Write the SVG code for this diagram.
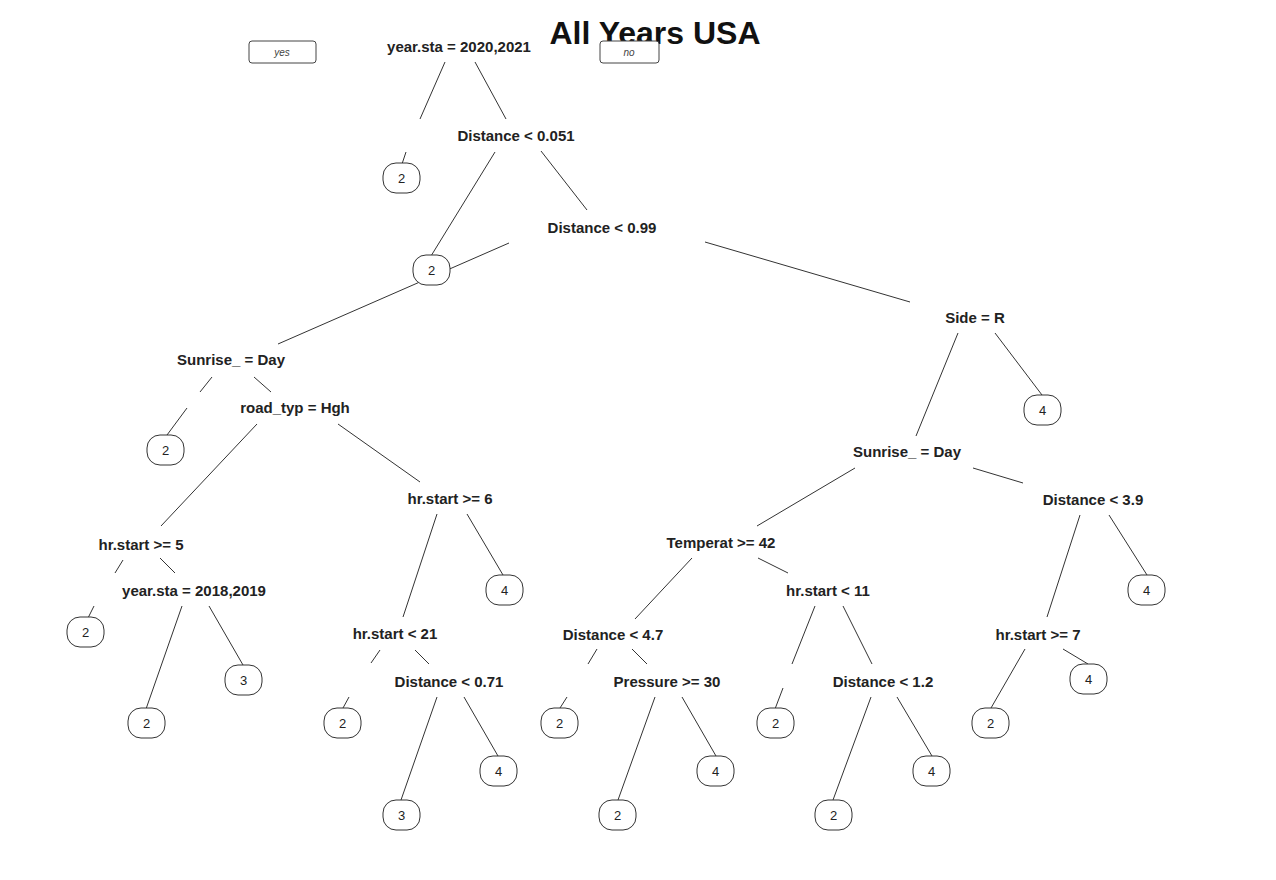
<svg xmlns="http://www.w3.org/2000/svg" width="1276" height="880" viewBox="0 0 1276 880">
<style>
.lbl{font-family:"Liberation Sans",Arial,sans-serif;font-weight:bold;font-size:15px;fill:#222;text-anchor:middle}
.lf{font-family:"Liberation Sans",Arial,sans-serif;font-size:13px;fill:#222;text-anchor:middle}
.leaf{fill:#fff;stroke:#333;stroke-width:1}
.yn{fill:#fff;stroke:#444;stroke-width:1}
.ynt{font-family:"Liberation Sans",Arial,sans-serif;font-style:italic;font-size:10px;fill:#444;text-anchor:middle}
#connectors line{stroke:#333;stroke-width:1}
</style>
<rect width="1276" height="880" fill="#fff"/>
<text x="655" y="44" font-family="Liberation Sans,Arial,sans-serif" font-weight="bold" font-size="32" fill="#111" text-anchor="middle">All Years USA</text>
<g id="yes"><rect class="yn" x="249" y="41" width="67" height="22" rx="3"/><text class="ynt" x="282" y="56">yes</text></g>
<g id="no"><rect class="yn" x="600" y="41" width="59" height="22" rx="3"/><text class="ynt" x="629" y="56">no</text></g>
<g id="connectors">
<line x1="445" y1="62" x2="420" y2="119"/><line x1="406" y1="152" x2="402" y2="164"/>
<line x1="475" y1="62" x2="506" y2="119"/>
<line x1="495" y1="152" x2="431" y2="256"/>
<line x1="541" y1="151" x2="587" y2="210"/>
<line x1="509" y1="243" x2="278" y2="344"/>
<line x1="705" y1="242" x2="910" y2="302"/>
<line x1="958" y1="333" x2="916" y2="436"/>
<line x1="995" y1="333" x2="1042" y2="395"/>
<line x1="212" y1="377" x2="200" y2="392"/><line x1="187" y1="408" x2="167" y2="435"/>
<line x1="254" y1="377" x2="271" y2="392"/>
<line x1="257" y1="424" x2="161" y2="526"/>
<line x1="338" y1="424" x2="420" y2="482"/>
<line x1="123" y1="560" x2="115" y2="573"/><line x1="94" y1="606" x2="88" y2="618"/>
<line x1="160" y1="558" x2="175" y2="573"/>
<line x1="182" y1="606" x2="146" y2="709"/>
<line x1="209" y1="606" x2="243" y2="665"/>
<line x1="437" y1="514" x2="403" y2="617"/>
<line x1="467" y1="514" x2="503" y2="575"/>
<line x1="380" y1="650" x2="371" y2="663"/><line x1="349" y1="697" x2="343" y2="708"/>
<line x1="415" y1="650" x2="429" y2="664"/>
<line x1="437" y1="697" x2="401" y2="800"/>
<line x1="464" y1="697" x2="498" y2="756"/>
<line x1="855" y1="468" x2="757" y2="526"/>
<line x1="973" y1="468" x2="1023" y2="483"/>
<line x1="692" y1="558" x2="635" y2="619"/>
<line x1="758" y1="558" x2="788" y2="573"/>
<line x1="597" y1="649" x2="588" y2="664"/><line x1="567" y1="697" x2="560" y2="708"/>
<line x1="632" y1="649" x2="647" y2="664"/>
<line x1="655" y1="697" x2="618" y2="800"/>
<line x1="682" y1="697" x2="716" y2="756"/>
<line x1="815" y1="606" x2="792" y2="664"/><line x1="783" y1="688" x2="775" y2="709"/>
<line x1="843" y1="606" x2="872" y2="664"/>
<line x1="871" y1="697" x2="833" y2="800"/>
<line x1="897" y1="697" x2="932" y2="756"/>
<line x1="1080" y1="515" x2="1047" y2="617"/>
<line x1="1109" y1="515" x2="1147" y2="575"/>
<line x1="1025" y1="649" x2="991" y2="708"/>
<line x1="1063" y1="649" x2="1088" y2="664"/>
</g>
<g id="n1"><text class="lbl" x="459" y="52">year.sta = 2020,2021</text></g>
<g id="n2"><text class="lbl" x="516" y="141">Distance &lt; 0.051</text></g>
<g id="n3"><text class="lbl" x="602" y="233">Distance &lt; 0.99</text></g>
<g id="n4"><text class="lbl" x="975" y="323">Side = R</text></g>
<g id="n5"><text class="lbl" x="231" y="365">Sunrise_ = Day</text></g>
<g id="n6"><text class="lbl" x="295" y="413">road_typ = Hgh</text></g>
<g id="n7"><text class="lbl" x="141" y="550">hr.start &gt;= 5</text></g>
<g id="n8"><text class="lbl" x="194" y="596">year.sta = 2018,2019</text></g>
<g id="n9"><text class="lbl" x="450" y="504">hr.start &gt;= 6</text></g>
<g id="n10"><text class="lbl" x="395" y="639">hr.start &lt; 21</text></g>
<g id="n11"><text class="lbl" x="449" y="687">Distance &lt; 0.71</text></g>
<g id="n12"><text class="lbl" x="907" y="457">Sunrise_ = Day</text></g>
<g id="n13"><text class="lbl" x="721" y="548">Temperat &gt;= 42</text></g>
<g id="n14"><text class="lbl" x="828" y="596">hr.start &lt; 11</text></g>
<g id="n15"><text class="lbl" x="613" y="640">Distance &lt; 4.7</text></g>
<g id="n16"><text class="lbl" x="667" y="687">Pressure &gt;= 30</text></g>
<g id="n17"><text class="lbl" x="883" y="687">Distance &lt; 1.2</text></g>
<g id="n18"><text class="lbl" x="1093" y="505">Distance &lt; 3.9</text></g>
<g id="n19"><text class="lbl" x="1038" y="640">hr.start &gt;= 7</text></g>
<g id="L1"><rect class="leaf" x="383" y="163" width="37" height="30" rx="13"/><text class="lf" x="401.5" y="183">2</text></g>
<g id="L2"><rect class="leaf" x="413" y="255" width="37" height="30" rx="13"/><text class="lf" x="431.5" y="275">2</text></g>
<g id="L3"><rect class="leaf" x="147" y="435" width="37" height="30" rx="13"/><text class="lf" x="165.5" y="455">2</text></g>
<g id="L4"><rect class="leaf" x="1024" y="395" width="37" height="30" rx="13"/><text class="lf" x="1042.5" y="415">4</text></g>
<g id="L5"><rect class="leaf" x="67" y="617" width="37" height="30" rx="13"/><text class="lf" x="85.5" y="637">2</text></g>
<g id="L6"><rect class="leaf" x="128" y="708" width="37" height="30" rx="13"/><text class="lf" x="146.5" y="728">2</text></g>
<g id="L7"><rect class="leaf" x="225" y="665" width="37" height="30" rx="13"/><text class="lf" x="243.5" y="685">3</text></g>
<g id="L8"><rect class="leaf" x="486" y="575" width="37" height="30" rx="13"/><text class="lf" x="504.5" y="595">4</text></g>
<g id="L9"><rect class="leaf" x="324" y="708" width="37" height="30" rx="13"/><text class="lf" x="342.5" y="728">2</text></g>
<g id="L10"><rect class="leaf" x="383" y="800" width="37" height="30" rx="13"/><text class="lf" x="401.5" y="820">3</text></g>
<g id="L11"><rect class="leaf" x="480" y="756" width="37" height="30" rx="13"/><text class="lf" x="498.5" y="776">4</text></g>
<g id="L12"><rect class="leaf" x="541" y="708" width="37" height="30" rx="13"/><text class="lf" x="559.5" y="728">2</text></g>
<g id="L13"><rect class="leaf" x="599" y="800" width="37" height="30" rx="13"/><text class="lf" x="617.5" y="820">2</text></g>
<g id="L14"><rect class="leaf" x="697" y="756" width="37" height="30" rx="13"/><text class="lf" x="715.5" y="776">4</text></g>
<g id="L15"><rect class="leaf" x="757" y="708" width="37" height="30" rx="13"/><text class="lf" x="775.5" y="728">2</text></g>
<g id="L16"><rect class="leaf" x="815" y="800" width="37" height="30" rx="13"/><text class="lf" x="833.5" y="820">2</text></g>
<g id="L17"><rect class="leaf" x="913" y="756" width="37" height="30" rx="13"/><text class="lf" x="931.5" y="776">4</text></g>
<g id="L18"><rect class="leaf" x="1128" y="575" width="37" height="30" rx="13"/><text class="lf" x="1146.5" y="595">4</text></g>
<g id="L19"><rect class="leaf" x="972" y="708" width="37" height="30" rx="13"/><text class="lf" x="990.5" y="728">2</text></g>
<g id="L20"><rect class="leaf" x="1070" y="664" width="37" height="30" rx="13"/><text class="lf" x="1088.5" y="684">4</text></g>
</svg>
